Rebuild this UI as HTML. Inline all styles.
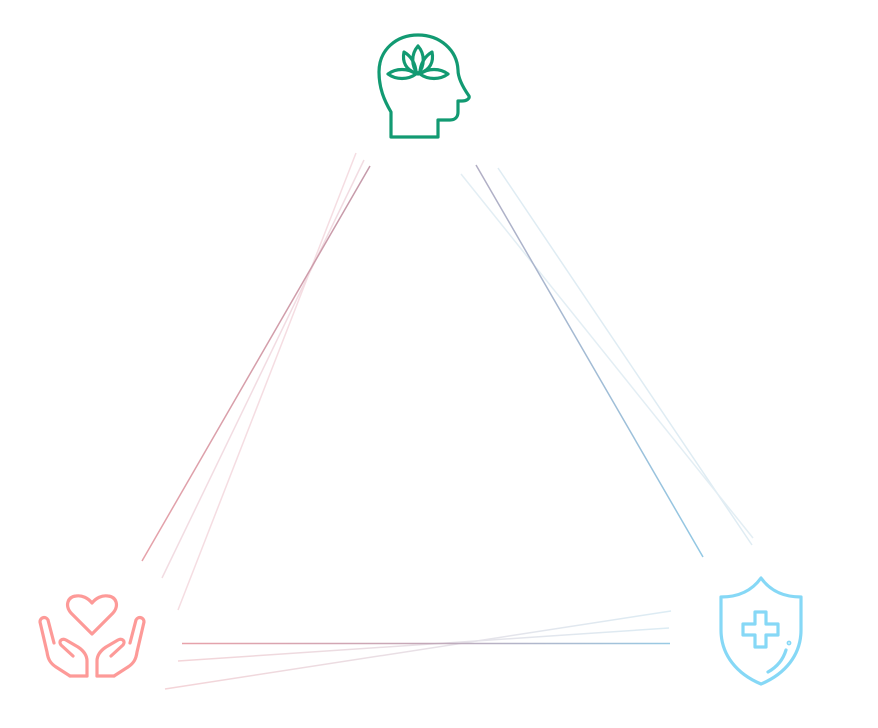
<!DOCTYPE html>
<html><head><meta charset="utf-8"><style>html,body{margin:0;padding:0;background:#fff}svg{display:block}</style></head>
<body>
<svg width="878" height="728" viewBox="0 0 878 728" xmlns="http://www.w3.org/2000/svg">
<defs>
<linearGradient id="gl" gradientUnits="userSpaceOnUse" x1="370" y1="166" x2="142" y2="561"><stop offset="0" stop-color="#c49aaa"/><stop offset="1" stop-color="#e6a2aa"/></linearGradient>
<linearGradient id="gr" gradientUnits="userSpaceOnUse" x1="476" y1="165" x2="703" y2="557"><stop offset="0" stop-color="#b2aec4"/><stop offset="1" stop-color="#92c8e4"/></linearGradient>
<linearGradient id="gb" gradientUnits="userSpaceOnUse" x1="182" y1="0" x2="670" y2="0"><stop offset="0" stop-color="#e8a2aa"/><stop offset="0.5" stop-color="#c4a8b8"/><stop offset="1" stop-color="#98cae4"/></linearGradient>
<linearGradient id="gb2" gradientUnits="userSpaceOnUse" x1="170" y1="0" x2="670" y2="0"><stop offset="0" stop-color="#f4d4d8"/><stop offset="1" stop-color="#dcecf4"/></linearGradient>
</defs>
<!-- faint lines -->
<g stroke-width="1.5" fill="none">
<line x1="356" y1="153" x2="178" y2="610" stroke="#f5dde2"/>
<line x1="364" y1="160" x2="162" y2="578" stroke="#f2dce2"/>
<line x1="498" y1="168" x2="752" y2="545" stroke="#dfecf3"/>
<line x1="461" y1="174" x2="753" y2="538" stroke="#e3eef4"/>
<line x1="178" y1="661" x2="669" y2="628" stroke="url(#gb2)"/>
<line x1="165" y1="689" x2="671" y2="611" stroke="url(#gb2)"/>
</g>
<line x1="370" y1="166" x2="142" y2="561" stroke="url(#gl)" stroke-width="1.5"/>
<line x1="476" y1="165" x2="703" y2="557" stroke="url(#gr)" stroke-width="1.5"/>
<line x1="182" y1="643.5" x2="670" y2="643.5" stroke="url(#gb)" stroke-width="1.5"/>

<!-- head -->
<g fill="none" stroke="#129a72" stroke-width="3.2" stroke-linejoin="round" stroke-linecap="round">
<path d="M391,137 L391,112 C384,100 379,88 379,72 C379,50 396,35 418,35 C440,35 457,50 458,70 C458,77 462,86 469,96 C470,99 466,101 462,101 L458,101 L458,112 C458,117 455,120 450,120 L438,120 L438,137 Z"/>
<path d="M418,46 C411,54 411,66 418,74 C425,66 425,54 418,46 Z"/>
<path d="M404,52 C402,62 406,70 416,73 C416,64 411,56 404,52 Z"/>
<path d="M432,52 C434,62 430,70 420,73 C420,64 425,56 432,52 Z"/>
<path d="M388,74 C396,68 408,68 416,74 C408,80 396,80 388,74 Z"/>
<path d="M448,74 C440,68 428,68 420,74 C428,80 440,80 448,74 Z"/>
</g>

<!-- hands -->
<g fill="none" stroke="#fd9a98" stroke-width="3.2" stroke-linejoin="round" stroke-linecap="round">
<path d="M92,634 L71,613 C65,606 67,597 76,596 C82,595 88,598 92,603 C96,598 102,595 108,596 C117,597 119,606 113,613 Z"/>
<path d="M87,676 L87,661 C87,656 84,651 78,647 L66,640 C62,638 58,641 61,645 L73,656"/>
<path d="M70,676 L56,667 C50,663 48,659 47,652 L40,622 C40,617 46,616 48,620 L54,643"/>
<path d="M70,676 L87,676"/>
<path d="M97,676 L97,661 C97,656 100,651 106,647 L118,640 C122,638 126,641 123,645 L111,656"/>
<path d="M114,676 L128,667 C134,663 136,659 137,652 L144,622 C144,617 138,616 136,620 L130,643"/>
<path d="M97,676 L114,676"/>
</g>

<!-- shield -->
<g fill="none" stroke="#86d8f6" stroke-width="3.2" stroke-linejoin="round" stroke-linecap="round">
<path d="M761,578 C751,592 737,597 721,597 L721,630 C721,655 737,674 761,684 C785,674 801,655 801,630 L801,597 C785,597 771,592 761,578 Z"/>
<path d="M755,612 L766,612 L766,624 L778,624 L778,635 L766,635 L766,647 L755,647 L755,635 L743,635 L743,624 L755,624 Z"/>
<path d="M786,650 C783,660 777,667 768,672"/>
<circle cx="789" cy="643" r="0.8"/>
</g>
</svg>
</body></html>
